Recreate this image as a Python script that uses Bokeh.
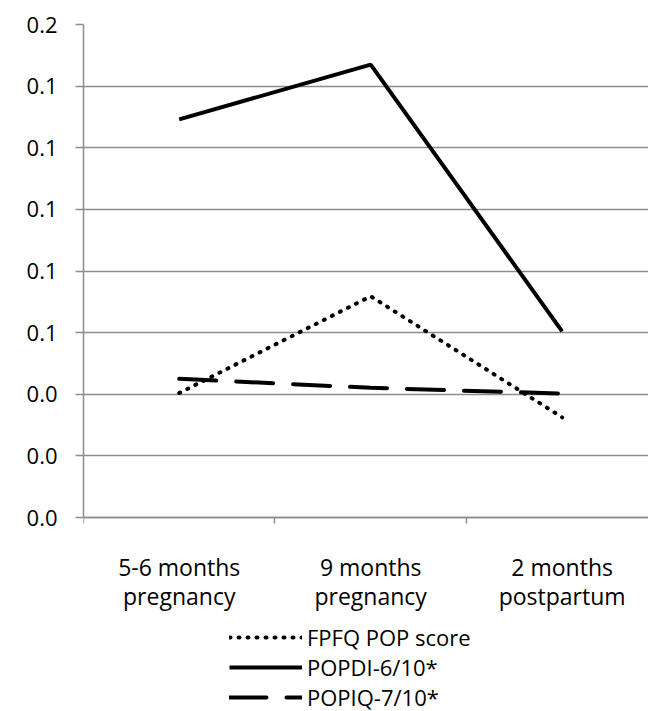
from bokeh.plotting import figure
from bokeh.models import FixedTicker, PrintfTickFormatter, Range1d, Legend, LegendItem
from bokeh.embed import file_html
from bokeh.resources import INLINE

categories = ["5-6 months\npregnancy", "9 months\npregnancy", "2 months\npostpartum"]
fpfq = [0.0404, 0.0718, 0.0325]
popdi = [0.1292, 0.1470, 0.0604]
popiq = [0.0450, 0.0421, 0.0402]
y_ticks = [0.0, 0.02, 0.04, 0.06, 0.08, 0.10, 0.12, 0.14, 0.16]
series_names = ["FPFQ POP score", "POPDI-6/10*", "POPIQ-7/10*"]

FONT = "Open Sans"
GRID = "#8c8c8c"

xs = [i + 0.5 for i in range(len(categories))]

# value range 0..0.16 occupies 493 px; extra space below 0 holds labels and legend
Y_MAX = 0.16
Y_MIN = -Y_MAX * 194 / 493

p = figure(frame_width=565, frame_height=687, output_backend="svg", toolbar_location=None,
           x_range=Range1d(0, 2.951), y_range=Range1d(Y_MIN, Y_MAX),
           min_border_left=83, min_border_right=0, min_border_top=24, min_border_bottom=0)
p.outline_line_color = None
p.xgrid.grid_line_color = None
p.ygrid.grid_line_color = GRID
p.ygrid.grid_line_width = 1.5
p.ygrid.ticker = FixedTicker(ticks=y_ticks)

p.yaxis.ticker = FixedTicker(ticks=y_ticks)
p.yaxis.bounds = (0, Y_MAX)
p.yaxis.formatter = PrintfTickFormatter(format="%.1f")
p.yaxis.axis_line_color = GRID
p.yaxis.axis_line_width = 1.5
p.yaxis.major_tick_line_color = GRID
p.yaxis.major_tick_line_width = 1.5
p.yaxis.major_tick_out = 8
p.yaxis.major_tick_in = 0
p.yaxis.minor_tick_line_color = None
p.yaxis.major_label_text_font = FONT
p.yaxis.major_label_text_font_size = "22px"
p.yaxis.major_label_text_color = "black"
p.yaxis.major_label_standoff = 18

p.xaxis.fixed_location = 0
p.xaxis.ticker = FixedTicker(ticks=xs, minor_ticks=list(range(len(categories) + 1)))
p.xaxis.major_label_overrides = {x: c for x, c in zip(xs, categories)}
p.xaxis.axis_line_color = GRID
p.xaxis.axis_line_width = 1.5
p.xaxis.major_tick_line_color = None
p.xaxis.minor_tick_line_color = GRID
p.xaxis.minor_tick_line_width = 1.5
p.xaxis.minor_tick_out = 6
p.xaxis.minor_tick_in = 0
p.xaxis.major_label_text_font = FONT
p.xaxis.major_label_text_font_size = "23px"
p.xaxis.major_label_text_color = "black"
p.xaxis.major_label_standoff = 27
p.xaxis.major_label_text_line_height = 0.92

r1 = p.line(xs, fpfq, line_color="black", line_width=4, line_dash="1 8", line_cap="round")
r2 = p.line(xs, popdi, line_color="black", line_width=4)
r3 = p.line(xs, popiq, line_color="black", line_width=4, line_dash="37 20", line_cap="round")

legend = Legend(items=[LegendItem(label=series_names[0], renderers=[r1]),
                       LegendItem(label=series_names[1], renderers=[r2]),
                       LegendItem(label=series_names[2], renderers=[r3])],
                location=(146, -1), orientation="vertical",
                label_text_font=FONT, label_text_font_size="22px", label_text_color="black",
                glyph_width=73, glyph_height=26, label_height=26,
                label_standoff=5, spacing=0, padding=0, margin=0,
                border_line_color=None, background_fill_alpha=0)
p.add_layout(legend, "center")

open("out.html", "w").write(file_html(p, INLINE))
